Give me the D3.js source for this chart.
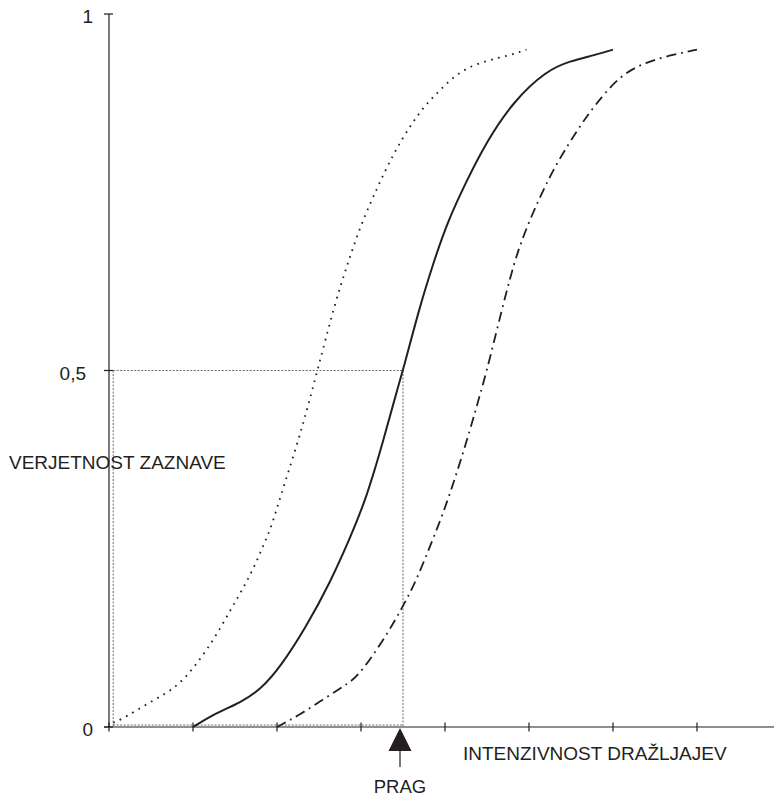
<!DOCTYPE html>
<html>
<head>
<meta charset="utf-8">
<script src="https://cdn.jsdelivr.net/npm/d3@7"></script>
<style>
  html, body { margin: 0; padding: 0; background: #fff; }
  svg { display: block; }
  text { font-family: "Liberation Sans", Arial, Helvetica, sans-serif; fill: #231f20; }
</style>
</head>
<body>
<svg id="chart" width="774" height="797"></svg>
<script>
// ---- data ----
const xTicks = [0, 1, 2, 3, 4, 5, 6, 7];
const yTicks = [0, 0.5, 1];
const yTickLabels = ["0", "0,5", "1"];
const threshold = 3.5;
const thresholdP = 0.5;
const guideLeftX = 0.05;

const dottedX = [0.05, 0.15, 0.31, 0.55, 0.77, 0.96, 1.12, 1.28, 1.46, 1.60, 1.73, 1.84, 1.94, 2.04, 2.24, 2.39, 2.48, 2.53, 2.69, 2.83, 2.99, 3.19, 3.39, 3.58, 3.76, 3.94, 4.18, 4.50, 4.77, 4.97];
const dottedY = [0.006, 0.011, 0.022, 0.039, 0.053, 0.076, 0.101, 0.129, 0.167, 0.195, 0.225, 0.255, 0.283, 0.323, 0.396, 0.459, 0.500, 0.522, 0.594, 0.646, 0.702, 0.756, 0.805, 0.842, 0.872, 0.893, 0.921, 0.935, 0.942, 0.950];

const solidX = [1.00, 1.28, 1.56, 1.80, 2.04, 2.35, 2.63, 2.87, 3.07, 3.27, 3.43, 3.50, 3.70, 3.86, 4.02, 4.26, 4.50, 4.81, 5.21, 5.49, 5.77, 6.00];
const solidY = [0.000, 0.020, 0.034, 0.052, 0.084, 0.141, 0.202, 0.265, 0.323, 0.403, 0.473, 0.500, 0.590, 0.650, 0.706, 0.767, 0.822, 0.877, 0.921, 0.934, 0.942, 0.950];

const dashX = [2.00, 2.27, 2.59, 2.85, 2.99, 3.27, 3.50, 3.66, 3.82, 3.98, 4.14, 4.30, 4.42, 4.50, 4.74, 4.89, 5.13, 5.33, 5.59, 5.77, 6.08, 6.40, 6.72, 7.00];
const dashY = [0.000, 0.017, 0.042, 0.061, 0.075, 0.122, 0.169, 0.206, 0.253, 0.300, 0.356, 0.417, 0.468, 0.500, 0.616, 0.678, 0.744, 0.791, 0.840, 0.870, 0.914, 0.933, 0.943, 0.950];

const yTitle = "VERJETNOST ZAZNAVE";
const xTitle = "INTENZIVNOST DRAŽLJAJEV";
const thresholdLabel = "PRAG";

// ---- layout ----
const svg = d3.select("#chart");
const ink = "#231f20";
const x = d3.scaleLinear().domain([0, 1]).range([109, 193]);
const y = d3.scaleLinear().domain([0, 1]).range([727, 14]);
const xEnd = 774;

const zip = (xs, ys) => xs.map((v, i) => [v, ys[i]]);
const line = d3.line().x(d => x(d[0])).y(d => y(d[1])).curve(d3.curveBasis);

// guide lines (grey dotted)
const guide = svg.append("g").attr("stroke", "#6d6d6d").attr("stroke-width", 1)
  .attr("stroke-dasharray", "2,1.5").attr("fill", "none");
guide.append("line").attr("x1", x(guideLeftX)).attr("x2", x(threshold))
  .attr("y1", y(thresholdP)).attr("y2", y(thresholdP));
guide.append("line").attr("x1", x(threshold)).attr("x2", x(threshold))
  .attr("y1", y(thresholdP)).attr("y2", y(0) - 1);
guide.append("line").attr("x1", x(guideLeftX)).attr("x2", x(guideLeftX))
  .attr("y1", y(thresholdP)).attr("y2", y(0));
guide.append("line").attr("x1", x(guideLeftX)).attr("x2", x(threshold))
  .attr("y1", y(0) - 2).attr("y2", y(0) - 2);

// curves
svg.append("path").datum(zip(dottedX, dottedY)).attr("d", line)
  .attr("fill", "none").attr("stroke", ink).attr("stroke-width", 1.8)
  .attr("stroke-dasharray", "1.7,5.5");
svg.append("path").datum(zip(solidX, solidY)).attr("d", line)
  .attr("fill", "none").attr("stroke", ink).attr("stroke-width", 2);
svg.append("path").datum(zip(dashX, dashY)).attr("d", line)
  .attr("fill", "none").attr("stroke", ink).attr("stroke-width", 1.8)
  .attr("stroke-dasharray", "10,5,1.8,5");

// axes
const ax = svg.append("g").attr("stroke", ink).attr("stroke-width", 1.2);
ax.append("line").attr("x1", x(0)).attr("x2", x(0)).attr("y1", y(1)).attr("y2", y(0));
ax.append("line").attr("x1", x(0) - 5).attr("x2", xEnd).attr("y1", y(0)).attr("y2", y(0));
ax.selectAll(".yt").data(yTicks).join("line")
  .attr("x1", x(0) - 5).attr("x2", x(0) + 4)
  .attr("y1", d => y(d)).attr("y2", d => y(d));
ax.selectAll(".xt").data(xTicks).join("line")
  .attr("x1", d => x(d)).attr("x2", d => x(d))
  .attr("y1", y(0) - 4.5).attr("y2", y(0) + 4.5);

// y tick labels
svg.selectAll(".ylab").data(yTicks).join("text")
  .attr("x", (d, i) => yTickLabels[i].length > 1 ? x(0) - 23 : x(0) - 16)
  .attr("y", d => y(d) + 9)
  .attr("text-anchor", "end")
  .attr("font-size", 19)
  .text((d, i) => yTickLabels[i]);

// titles
svg.append("text").attr("x", 9).attr("y", 469).attr("font-size", 19).text(yTitle);
svg.append("text").attr("x", 463).attr("y", 760).attr("font-size", 19).text(xTitle);

// threshold arrow
const tx = x(threshold) - 3;
svg.append("path")
  .attr("d", d3.line()([[tx, y(0) + 1], [tx - 11.5, y(0) + 24], [tx + 11.5, y(0) + 24]]) + "Z")
  .attr("fill", ink);
svg.append("line").attr("x1", tx).attr("x2", tx).attr("y1", y(0) + 24).attr("y2", y(0) + 40)
  .attr("stroke", ink).attr("stroke-width", 1.2);
svg.append("text").attr("x", tx).attr("y", 793).attr("text-anchor", "middle")
  .attr("font-size", 18.5).text(thresholdLabel);
</script>
</body>
</html>
